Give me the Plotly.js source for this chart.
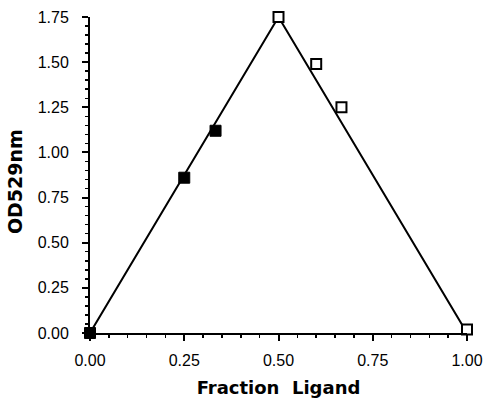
<!DOCTYPE html>
<html><head><meta charset="utf-8">
<script src="https://cdn.plot.ly/plotly-3.0.1.min.js"></script>
<style>html,body{margin:0;padding:0;background:#fff}#chart{width:485px;height:398px}</style>
</head><body><div id="chart"></div>
<script>
// Data
const filledX = [0.0, 0.25, 0.333];
const filledY = [0.0, 0.86, 1.12];
const openX = [0.5, 0.6, 0.667, 1.0];
const openY = [1.75, 1.49, 1.25, 0.02];
const lineX = [0.0, 0.5, 1.0];
const lineY = [0.0, 1.75, 0.0];
const xTicks = [0, 0.25, 0.5, 0.75, 1.0];
const xTickLabels = ["0.00", "0.25", "0.50", "0.75", "1.00"];
const yTicks = [0, 0.25, 0.5, 0.75, 1.0, 1.25, 1.5, 1.75];
const yTickLabels = ["0.00", "0.25", "0.50", "0.75", "1.00", "1.25", "1.50", "1.75"];

const traces = [
  {x: lineX, y: lineY, mode: 'lines', line: {color: '#000', width: 2}, hoverinfo: 'skip', cliponaxis: false},
  {x: filledX, y: filledY, mode: 'markers', cliponaxis: false,
   marker: {symbol: 'square', size: 11, color: '#000', line: {color: '#000', width: 1}}},
  {x: openX, y: openY, mode: 'markers', cliponaxis: false,
   marker: {symbol: 'square', size: 10, color: '#fff', line: {color: '#000', width: 2}}}
];

const font = {family: 'Liberation Sans, Arial, sans-serif', color: '#000'};
const titleFont = {family: 'DejaVu Sans, Liberation Sans, sans-serif', color: '#000', weight: 'bold'};
const layout = {
  width: 485, height: 398,
  margin: {l: 90, r: 18, t: 17, b: 65},
  paper_bgcolor: '#fff', plot_bgcolor: '#fff',
  showlegend: false,
  font: Object.assign({size: 16}, font),
  xaxis: {
    range: [0, 1], tickvals: xTicks, ticktext: xTickLabels,
    showgrid: false, zeroline: false, showline: true, linecolor: '#000', linewidth: 2,
    ticks: 'outside', ticklen: 6, tickwidth: 2, tickcolor: '#000',
    minor: {dtick: 0.05, tick0: 0, ticks: 'outside', ticklen: 3, tickwidth: 1.5, tickcolor: '#000', showgrid: false},
    tickfont: Object.assign({size: 16}, font),
    ticklabelstandoff: 6,
    title: {text: 'Fraction&nbsp;&nbsp;Ligand', font: Object.assign({size: 18}, titleFont), standoff: 15}
  },
  yaxis: {
    range: [0, 1.75], tickvals: yTicks, ticktext: yTickLabels,
    showgrid: false, zeroline: false, showline: true, linecolor: '#000', linewidth: 2,
    ticks: 'outside', ticklen: 6, tickwidth: 2, tickcolor: '#000',
    minor: {dtick: 0.05, tick0: 0, ticks: 'outside', ticklen: 3, tickwidth: 1.5, tickcolor: '#000', showgrid: false},
    tickfont: Object.assign({size: 16}, font),
    ticklabelstandoff: 10,
    title: {text: 'OD529nm&nbsp;&nbsp;', font: Object.assign({size: 19}, titleFont), standoff: 10}
  }
};
Plotly.newPlot('chart', traces, layout, {staticPlot: true, displayModeBar: false});
</script></body></html>
